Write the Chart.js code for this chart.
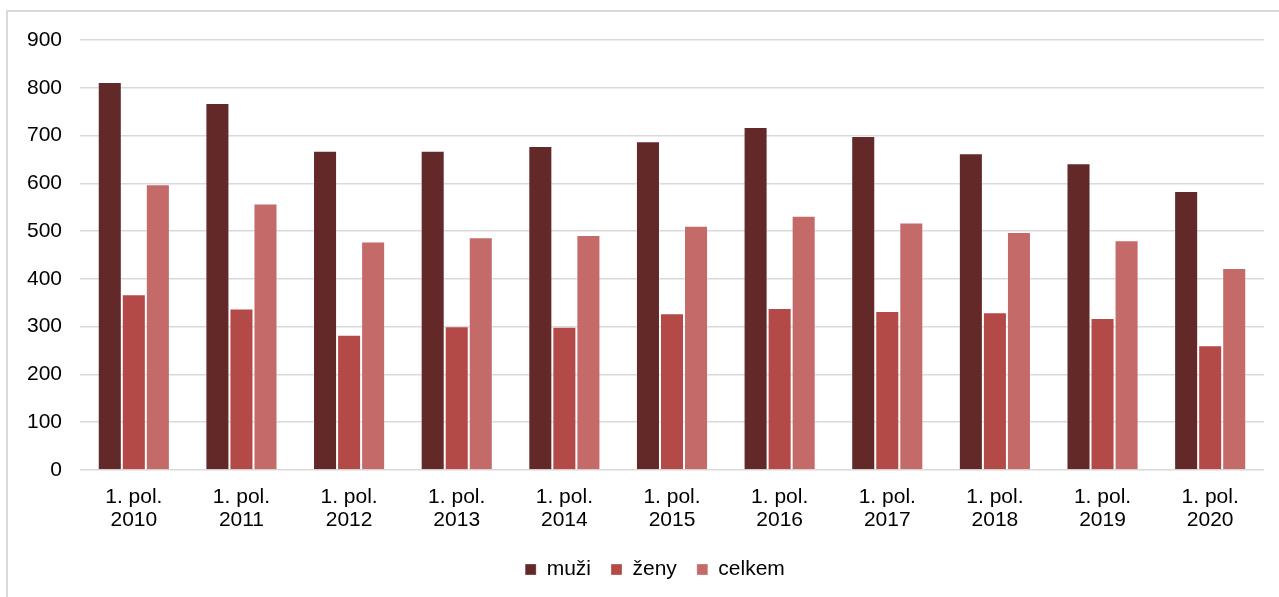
<!DOCTYPE html>
<html>
<head>
<meta charset="utf-8">
<script src="https://cdn.jsdelivr.net/npm/chart.js@4/dist/chart.umd.min.js"></script>
<style>
  html, body { margin: 0; padding: 0; background: #ffffff; }
  #wrap { width: 1279px; height: 597px; position: relative; }
</style>
</head>
<body>
<div id="wrap"><canvas id="c" width="1279" height="597"></canvas></div>
<script>
const categories = [
  ["1. pol.", "2010"], ["1. pol.", "2011"], ["1. pol.", "2012"], ["1. pol.", "2013"],
  ["1. pol.", "2014"], ["1. pol.", "2015"], ["1. pol.", "2016"], ["1. pol.", "2017"],
  ["1. pol.", "2018"], ["1. pol.", "2019"], ["1. pol.", "2020"]
];
const muzi   = [812, 768, 668, 668, 678, 688, 718, 699, 663, 642, 584];
const zeny   = [368, 338, 283, 301, 300, 328, 339, 333, 330, 318, 261];
const celkem = [598, 558, 478, 487, 492, 511, 532, 518, 498, 481, 423];
const seriesNames = ["muži", "ženy", "celkem"];
const yMin = 0, yMax = 900, yStep = 100;

const FONT = "'Liberation Sans', Arial, sans-serif";

const framePlugin = {
  id: 'frame',
  beforeDraw(chart) {
    const ctx = chart.ctx;
    ctx.save();
    ctx.strokeStyle = '#d9d9d9';
    ctx.lineWidth = 2;
    ctx.beginPath();
    ctx.moveTo(7, 597);
    ctx.lineTo(7, 11);
    ctx.lineTo(1279, 11);
    ctx.stroke();
    ctx.restore();
  }
};

const legendShift = {
  id: 'legendShift',
  afterLayout(chart) {
    if (chart.legend) {
      chart.legend.left += 23;
      chart.legend.right += 23;
    }
  }
};

new Chart(document.getElementById('c'), {
  type: 'bar',
  data: {
    labels: categories,
    datasets: [
      { label: seriesNames[0], data: muzi,   backgroundColor: '#632828' },
      { label: seriesNames[1], data: zeny,   backgroundColor: '#b34a47' },
      { label: seriesNames[2], data: celkem, backgroundColor: '#c46a68' }
    ].map(d => Object.assign(d, {
      borderColor: 'rgba(255,255,255,0.3)',
      borderWidth: 1,
      categoryPercentage: 0.67,
      barPercentage: 1.0
    }))
  },
  options: {
    responsive: false,
    animation: false,
    devicePixelRatio: 1,
    layout: { padding: { top: 40, right: 15, bottom: 7, left: 0 } },
    font: { family: FONT, size: 21 },
    scales: {
      x: {
        grid: { display: false, drawTicks: false },
        border: { display: false },
        ticks: {
          color: '#000000',
          font: { family: FONT, size: 21, lineHeight: 1.1 },
          padding: 16,
          maxRotation: 0,
          autoSkip: false
        },
        afterFit(scale) { scale.height = 69; }
      },
      y: {
        min: yMin, max: yMax,
        grid: { color: '#d9d9d9', lineWidth: 1.5, drawTicks: false },
        border: { display: false },
        ticks: {
          stepSize: yStep,
          color: '#000000',
          font: { family: FONT, size: 21 },
          padding: 18
        },
        afterFit(scale) { scale.width = 80; }
      }
    },
    plugins: {
      legend: {
        position: 'bottom',
        labels: {
          color: '#000000',
          font: { family: FONT, size: 21 },
          boxWidth: 11,
          boxHeight: 11,
          padding: 20
        }
      },
      tooltip: { enabled: false },
      title: { display: false }
    }
  },
  plugins: [framePlugin, legendShift]
});
</script>
</body>
</html>
